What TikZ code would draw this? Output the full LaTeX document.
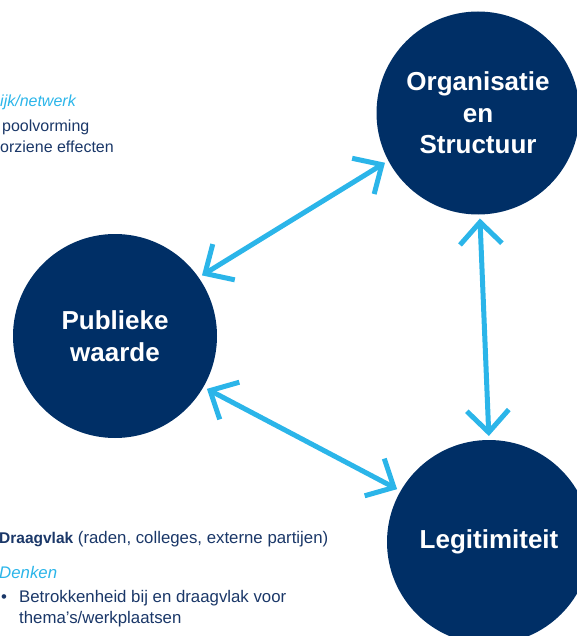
\documentclass[tikz,border=0pt]{standalone}
\usepackage{fontspec}
\setmainfont{Liberation Sans}
\usetikzlibrary{arrows.meta,positioning}
\definecolor{navy}{HTML}{002F66}
\definecolor{sky}{HTML}{2BB5E9}
\definecolor{ink}{HTML}{1A3768}
\tikzset{>={Straight Barb[sharp,length=22pt,width=42pt]}}
\tikzset{circ/.style={circle,fill=navy,text=white,inner sep=0pt,outer sep=0pt,
    minimum size=204pt,align=center,font=\fontsize{26}{31.5}\selectfont\bfseries}}
\tikzset{link/.style={<->,sky,line width=5pt,shorten <=4pt,shorten >=4pt}}
\tikzset{txt/.style={anchor=base west,inner sep=0pt,text=ink,font=\fontsize{16}{21}\selectfont}}
\tikzset{txtb/.style={txt,font=\fontsize{16.8}{21}\selectfont}}
\tikzset{head/.style={txt,text=sky,font=\fontsize{16}{21}\selectfont\itshape}}

\begin{document}
\begin{tikzpicture}[x=1pt,y=-1pt]
        \useasboundingbox (0,0) rectangle (577,636);
        \node [circ,minimum size=203pt] (os) at (478,113) {Organisatie\\en\\Structuur};
        \node [circ] (pw) at (115,336) {Publieke\\waarde};
        \node [circ] (lg) at (489,542) {Legitimiteit};
        \draw [link] (pw.35) -- (os.208);
        \draw [link] (pw.-30) -- (lg.150);
        \draw [link] (os.-89) -- (lg.90);
        % tekst links boven
        \node [head] (net) at (0,107) {ijk/netwerk};
        \node [txt] (pool) at (2,132) {poolvorming};
        \node [txt] (eff) at (0,153) {orziene effecten};
        % tekst links onder
        \node [txtb] (draag) at (-1,543) {{\fontsize{15.5}{21}\selectfont\bfseries Draagvlak} (raden, colleges, externe partijen)};
        \node [head,font=\fontsize{16.8}{21}\selectfont\itshape] (denk) at (-1,578) {Denken};
        \node [txtb] (bul) at (1,602) {•};
        \node [txtb] (betr) at (19,602) {Betrokkenheid bij en draagvlak voor};
        \node [txtb] (thema) at (19,623) {thema’s/werkplaatsen};
\end{tikzpicture}
\end{document}
